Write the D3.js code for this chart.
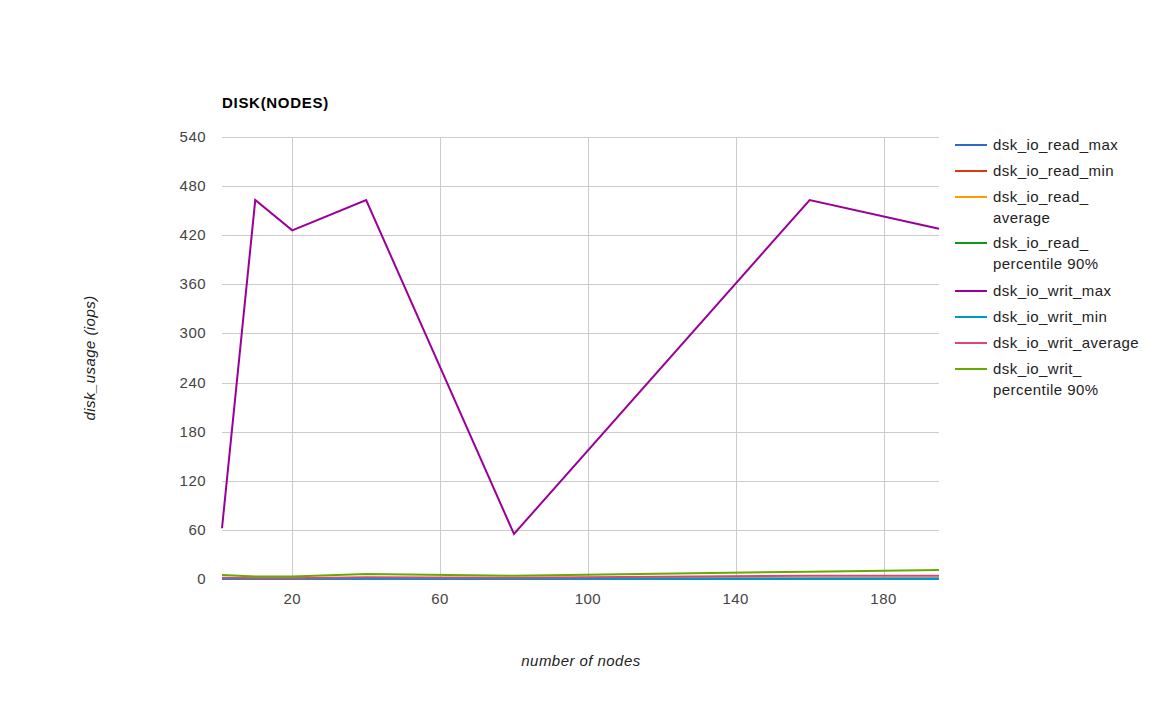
<!DOCTYPE html>
<html><head><meta charset="utf-8">
<script src="https://cdn.jsdelivr.net/npm/d3@7"></script>
<style>body{margin:0;background:#fff;font-family:Arial,"Liberation Sans",sans-serif;} text{letter-spacing:0.45px;}</style>
</head><body>
<svg id="c" width="1160" height="717"></svg>
<script>
const nodes = [1, 10, 20, 40, 80, 160, 195];
const seriesNames = ["dsk_io_read_max","dsk_io_read_min","dsk_io_read_\naverage","dsk_io_read_\npercentile 90%","dsk_io_writ_max","dsk_io_writ_min","dsk_io_writ_average","dsk_io_writ_\npercentile 90%"];
const readMax = [0.6, 0.4, 0.4, 0.6, 0.5, 0.6, 0.6];
const readMin = [0, 0, 0, 0, 0, 0, 0];
const readAvg = [0.2, 0.1, 0.1, 0.2, 0.2, 0.2, 0.2];
const readPct90 = [0.4, 0.3, 0.3, 0.4, 0.3, 0.4, 0.4];
const writMax = [62, 463, 426, 463, 55, 463, 428];
const writMin = [0, 0, 0, 0, 0, 0, 0];
const writAvg = [1.5, 1, 1, 2, 1.5, 4, 4];
const writPct90 = [5, 3, 3, 6, 4, 9, 11];
const yTicks = [0, 60, 120, 180, 240, 300, 360, 420, 480, 540];
const xTicks = [20, 60, 100, 140, 180];
const colors = ["#3366cc","#dc3912","#ff9900","#109618","#990099","#0099c6","#dd4477","#66aa00"];
const allSeries = [readMax, readMin, readAvg, readPct90, writMax, writMin, writAvg, writPct90];

const svg = d3.select("#c");
const L = 222, R = 939, T = 137, B = 579;
const x = d3.scaleLinear().domain([d3.min(nodes), d3.max(nodes)]).range([L, R]);
const y = d3.scaleLinear().domain([0, 540]).range([B, T]);
const FS = 15;

// gridlines
const g = svg.append("g");
g.selectAll(".hg").data(yTicks).enter().append("line")
  .attr("x1", L).attr("x2", R).attr("y1", d => Math.round(y(d)) + 0.5).attr("y2", d => Math.round(y(d)) + 0.5)
  .attr("stroke", "#cccccc").attr("stroke-width", 1);
g.selectAll(".vg").data(xTicks).enter().append("line")
  .attr("y1", T).attr("y2", B).attr("x1", d => Math.round(x(d)) + 0.5).attr("x2", d => Math.round(x(d)) + 0.5)
  .attr("stroke", "#cccccc").attr("stroke-width", 1);

// axis labels
svg.selectAll(".yl").data(yTicks).enter().append("text")
  .attr("x", 206).attr("y", d => y(d) + 5).attr("text-anchor", "end")
  .attr("font-size", FS).attr("fill", "#444").text(d => d);
svg.selectAll(".xl").data(xTicks).enter().append("text")
  .attr("x", d => x(d)).attr("y", 604).attr("text-anchor", "middle")
  .attr("font-size", FS).attr("fill", "#444").text(d => d);

// lines
const line = d3.line().x((d, i) => x(nodes[i])).y(d => y(d));
allSeries.forEach((s, i) => {
  svg.append("path").datum(s).attr("d", line).attr("fill", "none")
    .attr("stroke", colors[i]).attr("stroke-width", 2).attr("stroke-linejoin", "miter");
});

// title
svg.append("text").attr("x", 222).attr("y", 108).attr("font-size", FS).attr("font-weight", "bold")
  .attr("fill", "#000").style("letter-spacing", "0.7px").text("DISK(NODES)");

// axis titles
svg.append("text").attr("x", 581).attr("y", 666).attr("text-anchor", "middle")
  .attr("font-size", FS).attr("font-style", "italic").attr("fill", "#222").text("number of nodes");
svg.append("text").attr("transform", "translate(95,358) rotate(-90)").attr("text-anchor", "middle")
  .attr("font-size", FS).attr("font-style", "italic").attr("fill", "#222").text("disk_usage (iops)");

// legend
const legY = [145, 171, 197, 243, 291, 317, 343, 369];
seriesNames.forEach((n, i) => {
  svg.append("line").attr("x1", 955).attr("x2", 987).attr("y1", legY[i]).attr("y2", legY[i])
    .attr("stroke", colors[i]).attr("stroke-width", 2);
  const t = svg.append("text").attr("x", 993).attr("y", legY[i] + 5).attr("font-size", FS).attr("fill", "#222");
  n.split("\n").forEach((p, j) => {
    t.append("tspan").attr("x", 993).attr("dy", j === 0 ? 0 : 21).text(p);
  });
});
</script>
</body></html>
